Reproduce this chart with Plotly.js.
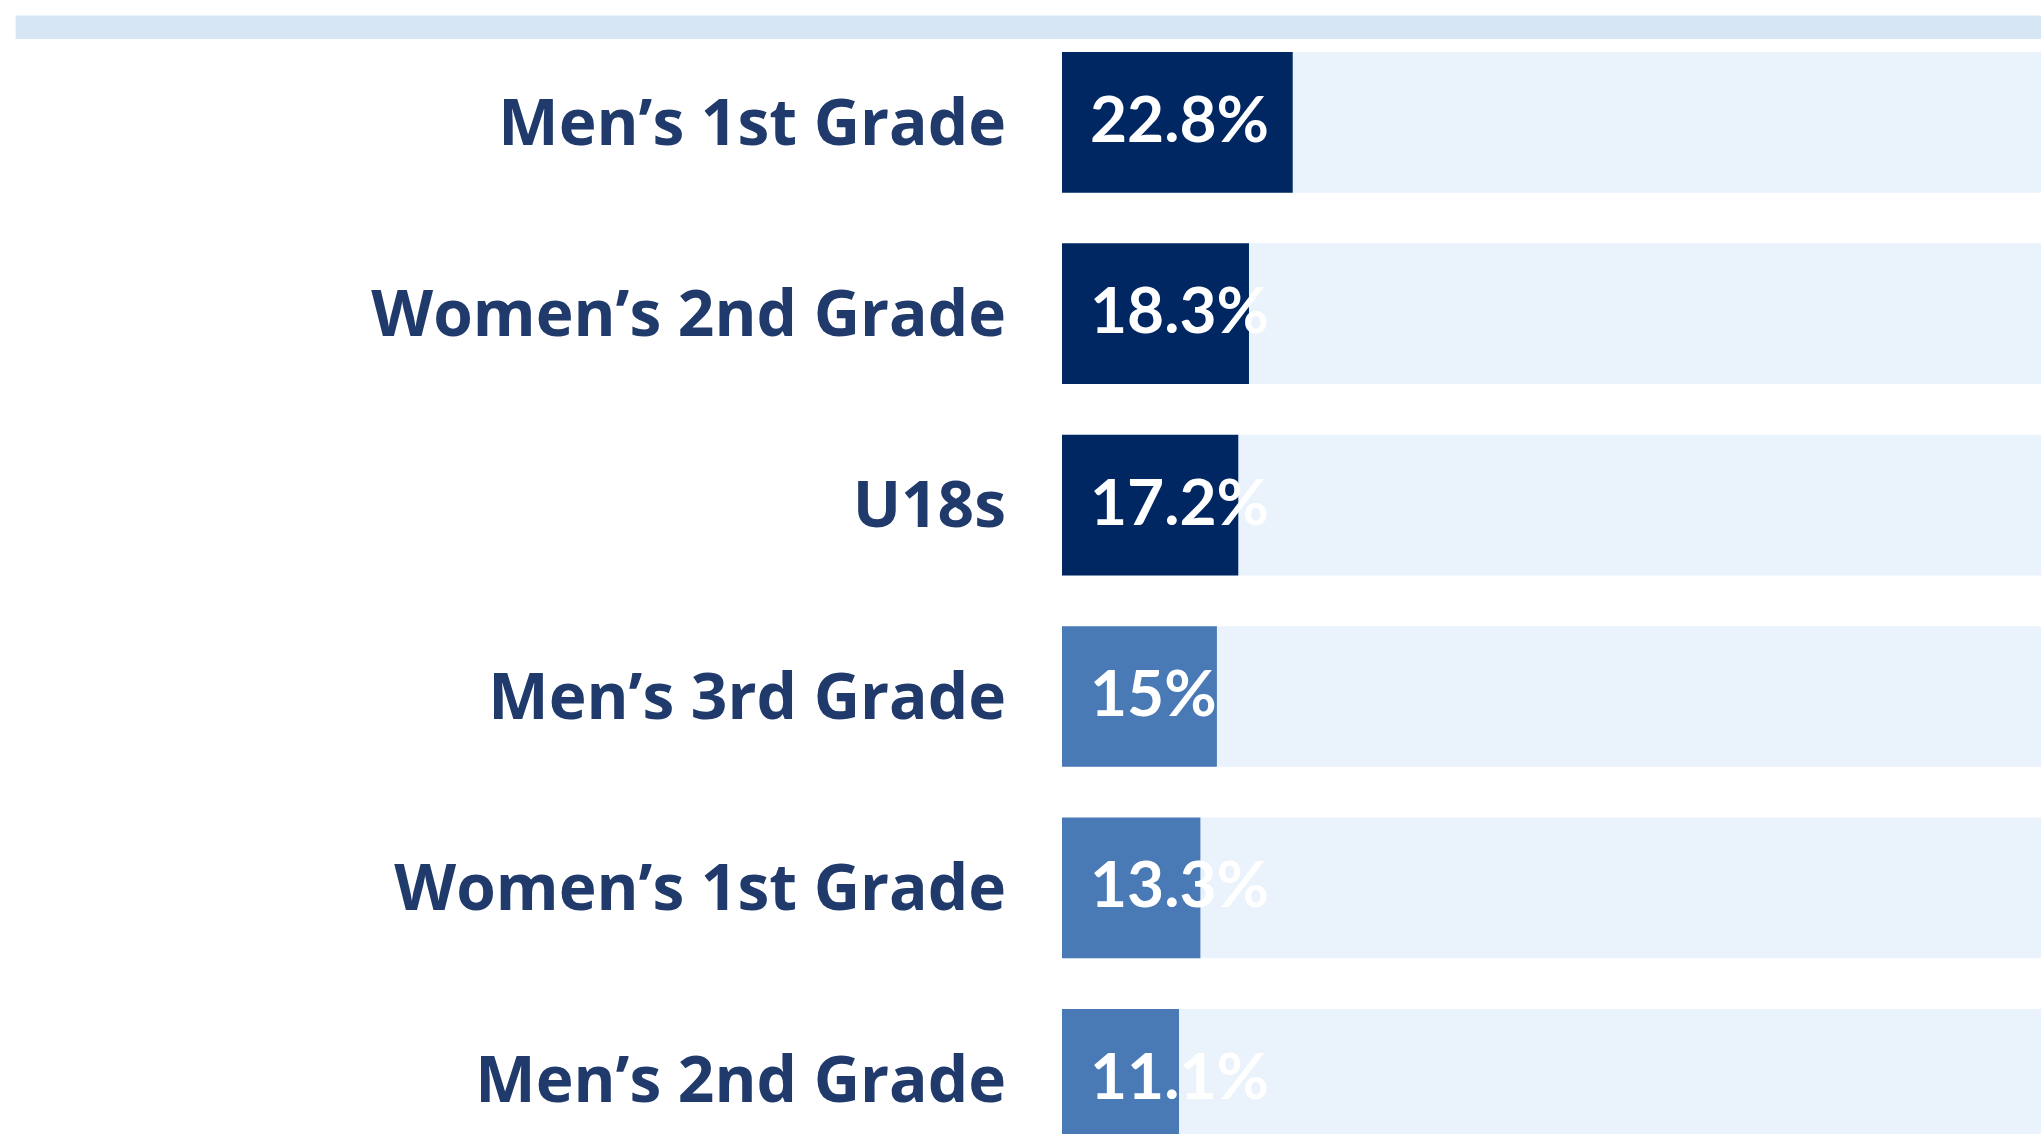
<!DOCTYPE html>
<html>
<head>
<meta charset="utf-8">
<script src="https://cdn.plot.ly/plotly-3.0.1.min.js"></script>
<style>html,body{margin:0;padding:0;background:#fff;}#chart{width:2041px;height:1134px;}</style>
</head>
<body>
<div id="chart"></div>
<script>
// ---- data ----
const categories = ["Men’s 1st Grade", "Women’s 2nd Grade", "U18s", "Men’s 3rd Grade", "Women’s 1st Grade", "Men’s 2nd Grade"];
const shares = [22.8, 18.3, 17.2, 15, 13.3, 11.1];
const trackMax = 100;
const topTierCount = 3;

// ---- styling ----
const W = 2041, H = 1134;
const axisStart = -0.94;
const axisEnd = 99.8;
const darkBlue = "#012763";
const midBlue = "#4A7AB5";
const trackColor = "#EAF2FB";
const bandColor = "#D6E6F5";
const labelColor = "#1F3A6B";
const labelFont = "'Open Sans', sans-serif";
const valueFont = "Lato, 'Open Sans', sans-serif";

const colors = shares.map((v, i) => i < topTierCount ? darkBlue : midBlue);

const track = {
  type: "bar", orientation: "h",
  y: categories,
  x: categories.map(() => trackMax - axisStart),
  base: axisStart,
  marker: {color: trackColor},
  hoverinfo: "skip", showlegend: false
};
const bars = {
  type: "bar", orientation: "h",
  y: categories,
  x: shares.map(v => v - axisStart),
  base: axisStart,
  marker: {color: colors},
  hoverinfo: "skip", showlegend: false
};

const annotations = categories.map((c, i) => ({
  xref: "x", yref: "y", x: axisStart, y: c,
  xanchor: "left", yanchor: "middle", xshift: 26, yshift: 5,
  text: shares[i] + "%", showarrow: false,
  font: {family: valueFont, size: 64, weight: "bold", color: "#ffffff"}
}));

const layout = {
  width: W, height: H,
  margin: {l: 0, r: 0, t: 0, b: 0, pad: 0},
  paper_bgcolor: "#ffffff", plot_bgcolor: "#ffffff",
  barmode: "overlay", bargap: 0.265,
  xaxis: {
    domain: [1062 / W, 1], range: [axisStart, axisEnd],
    showgrid: false, zeroline: false, showticklabels: false, showline: false, fixedrange: true
  },
  yaxis: {
    domain: [0, 1 - 40 / H], type: "category",
    categoryorder: "array", categoryarray: categories,
    range: [5.286, -0.43],
    showgrid: false, zeroline: false, showline: false, ticks: "",
    ticklabelstandoff: 55,
    tickfont: {family: labelFont, size: 64, weight: "bold", color: labelColor},
    fixedrange: true
  },
  shapes: [{
    type: "rect", xref: "paper", yref: "paper",
    x0: 15.6 / W, x1: 1, y0: 1 - 39 / H, y1: 1 - 15.6 / H,
    fillcolor: bandColor, line: {width: 0}, layer: "above"
  }],
  annotations: annotations
};

Plotly.newPlot("chart", [track, bars], layout, {displayModeBar: false, staticPlot: true});
</script>
</body>
</html>
